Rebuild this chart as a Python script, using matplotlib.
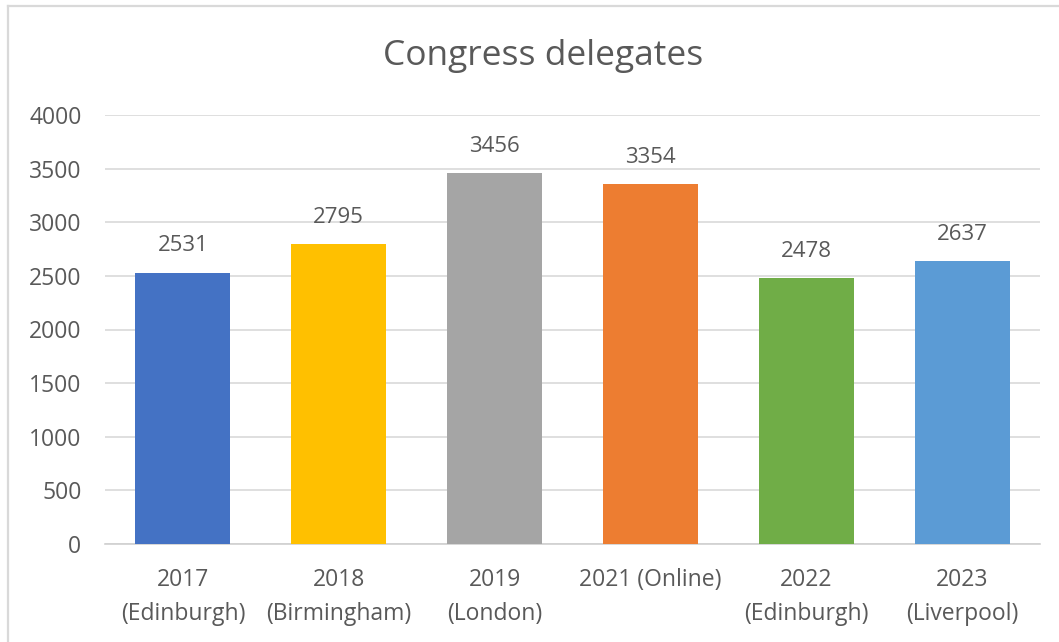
import matplotlib
matplotlib.use("Agg")
import matplotlib.pyplot as plt
from matplotlib.lines import Line2D

# Dane
kategorie = ["2017\n(Edinburgh)", "2018\n(Birmingham)", "2019\n(London)",
             "2021 (Online)", "2022\n(Edinburgh)", "2023\n(Liverpool)"]
delegaci = [2531, 2795, 3456, 3354, 2478, 2637]
kolory = ["#4472C4", "#FFC000", "#A5A5A5", "#ED7D31", "#70AD47", "#5B9BD5"]

plt.rcParams['font.family'] = ['Open Sans', 'DejaVu Sans']
szary = "#595959"
W, H = 1059, 642

fig = plt.figure(figsize=(W / 100, H / 100), dpi=100)
ax = fig.add_axes([105 / W, 1 - 544 / H, (1040 - 105) / W, (544 - 115) / H])

x = range(len(kategorie))
ax.bar(x, delegaci, width=0.61, color=kolory, zorder=3)

# Etykiety wartości
for xi, v in zip(x, delegaci):
    ax.annotate(str(v), (xi, v), xytext=(0, 12), textcoords="offset points",
                ha="center", va="bottom", fontsize=16, color=szary)

ax.set_ylim(0, 4000)
ax.set_xlim(-0.5, len(kategorie) - 0.5)
ax.set_yticks(range(0, 4001, 500))
ax.set_xticks(list(x))
ax.set_xticklabels(kategorie, fontsize=16.5, color=szary, linespacing=1.6)
ax.tick_params(axis="y", labelsize=16.5, labelcolor=szary, length=0, pad=17)
ax.tick_params(axis="x", length=0, pad=17)

ax.grid(axis="y", color="#D9D9D9", linewidth=1.2, zorder=0)
for s in ["top", "right", "left"]:
    ax.spines[s].set_visible(False)
ax.spines["bottom"].set_color("#D0D0D0")
ax.spines["bottom"].set_linewidth(1.2)

fig.text(543 / W, 1 - 56 / H, "Congress delegates", ha="center", va="center",
         fontsize=25.5, color=szary)

# Obramowanie wykresu (lewa i górna krawędź)
fig.add_artist(Line2D([8 / W, 8 / W], [0, 1 - 6 / H], transform=fig.transFigure,
                      color="#D9D9D9", linewidth=1.6))
fig.add_artist(Line2D([8 / W, 1], [1 - 6 / H, 1 - 6 / H], transform=fig.transFigure,
                      color="#D9D9D9", linewidth=1.6))

fig.savefig("out.png", dpi=100)
